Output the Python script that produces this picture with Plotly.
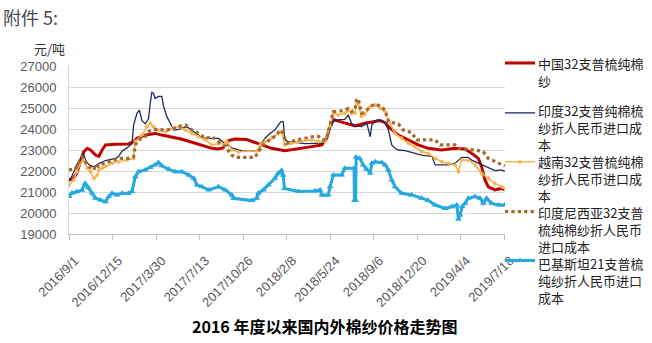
import plotly.graph_objects as go

# ---------------- data ----------------
tick_dates = ["2016-09-01", "2016-12-15", "2017-03-30", "2017-07-13", "2017-10-26", "2018-02-08",
              "2018-05-24", "2018-09-06", "2018-12-20", "2019-04-04", "2019-07-18"]
tick_labels = ["2016/9/1", "2016/12/15", "2017/3/30", "2017/7/13", "2017/10/26", "2018/2/8",
               "2018/5/24", "2018/9/6", "2018/12/20", "2019/4/4", "2019/7/18"]
y_ticks = [19000, 20000, 21000, 22000, 23000, 24000, 25000, 26000, 27000]

series_names = [
    "中国32支普梳纯棉<br>纱",
    "印度32支普纯棉梳<br>纱折人民币进口成<br>本",
    "越南32支普梳纯棉<br>纱折人民币进口成<br>本",
    "印度尼西亚32支普<br>梳纯棉纱折人民币<br>进口成本",
    "巴基斯坦21支普梳<br>纯纱折人民币进口<br>成本",
]

cn_dates = ["2016-09-01", "2016-09-10", "2016-09-20", "2016-09-28", "2016-10-06", "2016-10-15", "2016-10-23",
            "2016-11-04", "2016-11-12", "2016-11-20", "2016-11-28", "2016-12-22", "2017-01-23", "2017-02-04",
            "2017-02-12", "2017-03-04", "2017-03-28", "2017-04-13", "2017-05-07", "2017-06-01", "2017-07-03",
            "2017-07-27", "2017-08-12", "2017-08-27", "2017-09-08", "2017-09-21", "2017-10-06", "2017-11-04",
            "2017-11-24", "2018-01-03", "2018-02-04", "2018-03-09", "2018-04-10", "2018-05-04", "2018-05-16",
            "2018-05-24", "2018-06-01", "2018-06-09", "2018-06-29", "2018-07-15", "2018-07-24", "2018-08-16",
            "2018-09-05", "2018-09-22", "2018-10-04", "2018-10-12", "2018-11-05", "2018-11-29", "2018-12-23",
            "2019-01-16", "2019-02-17", "2019-03-22", "2019-04-15", "2019-05-01", "2019-05-17", "2019-05-25",
            "2019-06-02", "2019-06-10", "2019-06-26", "2019-07-12", "2019-07-20"]
cn_vals = [21600, 21600, 21900, 22400, 22900, 23080, 23000,
           22760, 22700, 23000, 23240, 23270, 23290, 23400,
           23560, 23710, 23790, 23710, 23600, 23510, 23320,
           23160, 23080, 23050, 23100, 23450, 23520, 23500,
           23350, 23080, 22970, 23050, 23160, 23240, 23560,
           24110, 24450, 24400, 24300, 24190, 24150, 24270,
           24350, 24400, 24300, 24110, 23710, 23480, 23240,
           23080, 23000, 23080, 23050, 22840, 22600, 22210,
           21570, 21250, 21100, 21170, 21100]

in_dates = ["2016-09-01", "2016-09-09", "2016-09-20", "2016-09-28", "2016-10-06", "2016-10-11", "2016-10-19",
            "2016-10-31", "2016-11-12", "2016-11-28", "2016-12-22", "2016-12-30", "2017-01-07", "2017-01-19",
            "2017-01-31", "2017-02-04", "2017-02-12", "2017-02-18", "2017-02-24", "2017-03-04", "2017-03-12",
            "2017-03-16", "2017-03-20", "2017-03-24", "2017-03-28", "2017-04-05", "2017-04-13", "2017-04-17",
            "2017-04-25", "2017-05-04", "2017-05-12", "2017-05-24", "2017-06-09", "2017-06-17", "2017-07-03",
            "2017-07-19", "2017-08-04", "2017-08-28", "2017-09-13", "2017-09-29", "2017-10-26", "2017-12-02",
            "2017-12-10", "2017-12-18", "2017-12-30", "2018-01-11", "2018-01-19", "2018-01-26", "2018-01-31",
            "2018-02-04", "2018-02-12", "2018-03-09", "2018-03-25", "2018-04-18", "2018-05-08", "2018-05-20",
            "2018-06-01", "2018-06-09", "2018-06-29", "2018-07-07", "2018-07-15", "2018-07-24", "2018-08-08",
            "2018-08-21", "2018-08-29", "2018-09-02", "2018-09-14", "2018-09-26", "2018-10-04", "2018-10-12",
            "2018-10-20", "2018-10-28", "2018-11-05", "2018-11-21", "2018-12-15", "2018-12-31", "2019-01-25",
            "2019-02-02", "2019-03-06", "2019-03-22", "2019-04-07", "2019-04-23", "2019-05-01", "2019-05-25",
            "2019-06-10", "2019-06-26", "2019-07-12", "2019-07-20"]
in_vals = [21500, 21800, 22300, 22600, 22850, 22500, 22300,
           22200, 22350, 22500, 22600, 22700, 22950, 23100,
           23300, 24200, 24750, 24900, 24400, 24250, 24500,
           25200, 25750, 25700, 25450, 25550, 25550, 25100,
           24600, 24250, 23950, 23980, 24100, 24050, 23800,
           23580, 23550, 23550, 23300, 23100, 22950, 22950,
           23320, 23560, 23790, 23950, 24190, 24350, 24350,
           23480, 23400, 23350, 23300, 23320, 23320, 23790,
           24350, 24430, 24460, 24670, 24270, 24150, 24110,
           24270, 23630, 24200, 24430, 24400, 24300, 23950,
           23240, 23080, 23000, 22970, 22840, 22760, 22700,
           22290, 22290, 22370, 22650, 22650, 22520, 22300,
           22180, 22020, 22050, 21980]

vn_dates = ["2016-09-01", "2016-09-12", "2016-09-20", "2016-09-28", "2016-10-06", "2016-10-15", "2016-10-23",
            "2016-10-31", "2016-11-08", "2016-11-12", "2016-11-20", "2016-11-28", "2016-12-14", "2016-12-30",
            "2017-01-19", "2017-02-04", "2017-02-08", "2017-02-24", "2017-03-08", "2017-03-16", "2017-03-24",
            "2017-04-05", "2017-04-22", "2017-05-08", "2017-05-24", "2017-06-09", "2017-06-25", "2017-07-11",
            "2017-07-27", "2017-08-12", "2017-08-28", "2017-09-13", "2017-09-17", "2017-09-29", "2017-10-15",
            "2017-11-28", "2017-12-06", "2017-12-18", "2018-01-03", "2018-01-19", "2018-01-27", "2018-02-04",
            "2018-02-20", "2018-03-09", "2018-04-10", "2018-04-26", "2018-05-12", "2018-05-24", "2018-06-01",
            "2018-06-13", "2018-06-29", "2018-07-07", "2018-07-15", "2018-07-23", "2018-07-27", "2018-07-31",
            "2018-08-08", "2018-08-16", "2018-08-29", "2018-09-10", "2018-09-22", "2018-10-04", "2018-10-12",
            "2018-10-28", "2018-11-13", "2018-11-29", "2018-12-15", "2018-12-31", "2019-01-16", "2019-02-02",
            "2019-02-18", "2019-03-06", "2019-03-22", "2019-03-30", "2019-04-07", "2019-04-23", "2019-05-09",
            "2019-05-25", "2019-06-10", "2019-06-26", "2019-07-12", "2019-07-20"]
vn_vals = [21330, 21570, 21970, 22370, 22520, 22130, 21970,
           21650, 21800, 22050, 22130, 22210, 22370, 22440,
           22520, 22600, 23400, 23710, 24110, 24270, 24110,
           23950, 23870, 24030, 24110, 23950, 23790, 23630,
           23480, 23240, 23300, 23300, 23400, 23000, 22920,
           22950, 23240, 23400, 23560, 23790, 23870, 23240,
           23320, 23400, 23480, 23400, 23400, 24110, 24750,
           24670, 24750, 24900, 24750, 24750, 25300, 25200,
           24600, 24700, 25060, 25140, 25000, 24830, 24430,
           23790, 23560, 23320, 23160, 22920, 22840, 22600,
           22440, 22370, 22290, 21970, 22520, 22520, 22290,
           21890, 21650, 21410, 21250, 21170]

id_dates = ["2016-09-01", "2016-09-16", "2016-09-24", "2016-10-02", "2016-10-10", "2016-10-19", "2016-10-31",
            "2016-11-04", "2016-11-12", "2016-11-24", "2016-12-06", "2016-12-22", "2017-01-03", "2017-01-23",
            "2017-02-04", "2017-02-08", "2017-02-16", "2017-03-04", "2017-03-12", "2017-03-20", "2017-04-05",
            "2017-04-22", "2017-05-08", "2017-05-20", "2017-06-09", "2017-06-25", "2017-07-11", "2017-07-27",
            "2017-08-12", "2017-08-28", "2017-09-13", "2017-09-29", "2017-10-07", "2017-11-24", "2017-12-02",
            "2017-12-18", "2018-01-03", "2018-01-15", "2018-01-23", "2018-01-31", "2018-02-08", "2018-03-04",
            "2018-03-25", "2018-04-10", "2018-04-26", "2018-05-08", "2018-05-16", "2018-05-24", "2018-06-01",
            "2018-06-13", "2018-06-29", "2018-07-07", "2018-07-15", "2018-07-23", "2018-07-27", "2018-07-31",
            "2018-08-04", "2018-08-08", "2018-08-16", "2018-08-29", "2018-09-10", "2018-09-22", "2018-10-04",
            "2018-10-12", "2018-11-05", "2018-11-17", "2018-12-07", "2018-12-19", "2019-02-02", "2019-02-14",
            "2019-03-22", "2019-03-30", "2019-05-09", "2019-05-29", "2019-06-10", "2019-06-26", "2019-07-12",
            "2019-07-20"]
id_vals = [22050, 22100, 22370, 22680, 22450, 22210, 22050,
           22300, 22210, 22370, 22440, 22520, 22600, 22600,
           22680, 23240, 23480, 23630, 23870, 23950, 23980,
           23950, 23980, 24110, 24190, 23950, 23790, 23560,
           23630, 23400, 23160, 22760, 22650, 22650, 22920,
           23320, 23560, 23710, 23950, 23800, 23320, 23480,
           23560, 23630, 23650, 23480, 23560, 24190, 24830,
           24830, 24900, 24980, 24830, 24900, 25380, 25460,
           25140, 24750, 24800, 25060, 25190, 25100, 24900,
           24350, 24240, 23950, 23830, 23480, 23480, 23240,
           23240, 23080, 23000, 22920, 22600, 22440, 22290,
           22240]

pk_dates = ["2016-09-01", "2016-09-08", "2016-09-20", "2016-10-02", "2016-10-10", "2016-10-18", "2016-10-27",
            "2016-11-04", "2016-11-16", "2016-11-28", "2016-12-06", "2016-12-14", "2016-12-26", "2017-01-07",
            "2017-01-23", "2017-01-31", "2017-02-08", "2017-02-16", "2017-03-04", "2017-03-16", "2017-03-28",
            "2017-04-05", "2017-04-13", "2017-04-30", "2017-05-16", "2017-06-01", "2017-06-17", "2017-06-29",
            "2017-07-07", "2017-07-19", "2017-08-04", "2017-08-28", "2017-09-13", "2017-09-29", "2017-10-03",
            "2017-11-16", "2017-11-28", "2017-12-02", "2017-12-14", "2017-12-26", "2018-01-11", "2018-01-19",
            "2018-01-27", "2018-01-31", "2018-02-03", "2018-03-09", "2018-04-18", "2018-04-30", "2018-05-04",
            "2018-05-20", "2018-05-24", "2018-06-01", "2018-06-21", "2018-06-29", "2018-07-21", "2018-07-22",
            "2018-07-25", "2018-07-26", "2018-08-04", "2018-08-12", "2018-08-20", "2018-08-29", "2018-09-02",
            "2018-09-10", "2018-09-26", "2018-10-04", "2018-10-12", "2018-10-20", "2018-10-28", "2018-11-13",
            "2018-12-07", "2018-12-31", "2019-01-16", "2019-02-02", "2019-02-26", "2019-03-14", "2019-03-26",
            "2019-03-30", "2019-04-03", "2019-04-08", "2019-04-15", "2019-04-23", "2019-05-09", "2019-05-21",
            "2019-05-29", "2019-06-06", "2019-06-18", "2019-07-05", "2019-07-20"]
pk_vals = [20780, 20950, 21010, 21080, 21410, 21200, 20940,
           20700, 20620, 20540, 20780, 20940, 20860, 20940,
           20940, 21020, 21730, 21970, 22050, 22170, 22290,
           22400, 22250, 22080, 21970, 21970, 21810, 21650,
           21330, 21250, 21100, 21250, 21100, 20860, 20700,
           20590, 20700, 20940, 21100, 21330, 21650, 21890,
           22020, 21800, 21170, 21020, 21050, 21100, 20860,
           20860, 21250, 21810, 21810, 22130, 22130, 20600,
           20600, 22650, 22600, 22290, 22100, 21890, 22370,
           22440, 22400, 22290, 22050, 21570, 21250, 20940,
           20860, 20700, 20600, 20380, 20220, 20300, 20380,
           19700, 19900, 20300, 20460, 20700, 20780, 20700,
           20460, 20700, 20460, 20380, 20380]

# ---------------- layout helpers ----------------
W, H = 652, 343
PL, PR, PT, PB = 69, 505, 66, 234.4


def px_x(p):
    return (p - PL) / (PR - PL)


def px_y(p):
    return (PB - p) / (PB - PT)


NUM_FONT = "Liberation Sans, Noto Sans CJK SC, sans-serif"
CJK_FONT = "Noto Sans CJK SC, sans-serif"

fig = go.Figure()

styles = [
    dict(line=dict(color="#C00000", width=3), mode="lines"),
    dict(line=dict(color="#1F2D5C", width=1.3), mode="lines"),
    dict(line=dict(color="#F7B24E", width=1.6), mode="lines+markers",
         marker=dict(symbol="diamond", size=3.5, color="#F7B24E")),
    dict(line=dict(color="#A5672A", width=3.2, dash="dot"), mode="lines"),
    dict(line=dict(color="#26A8E0", width=3), mode="lines+markers",
         marker=dict(symbol="triangle-up", size=6, color="#26A8E0")),
]
data = [(cn_dates, cn_vals), (in_dates, in_vals), (vn_dates, vn_vals), (id_dates, id_vals), (pk_dates, pk_vals)]
legend_ids = ["legend", "legend2", "legend3", "legend4", "legend5"]
sample_y = [64, 114, 163, 213, 262]            # vertical centre of each legend key
text_first_line = [64, 111, 162, 213, 264]     # vertical centre of first text line
LINE_H = 16.9

for i, ((xs, ys), st) in enumerate(zip(data, styles)):
    fig.add_trace(go.Scatter(x=xs, y=ys, name="", legend=legend_ids[i],
                             hoverinfo="skip", **st))

legend_common = dict(x=px_x(500), xanchor="left", yanchor="top", bgcolor="rgba(0,0,0,0)",
                     font=dict(family=CJK_FONT, size=13, color="#222222"), itemwidth=30)
layout_legends = {lid: dict(y=px_y(sy - 16), **legend_common) for lid, sy in zip(legend_ids, sample_y)}

fig.update_layout(
    width=W, height=H, autosize=False,
    margin=dict(l=PL, r=W - PR, t=PT, b=H - PB, pad=0),
    paper_bgcolor="white", plot_bgcolor="white",
    showlegend=True,
    xaxis=dict(type="date", range=["2016-09-01", "2019-07-20 10:00"],
               tickvals=tick_dates, ticktext=tick_labels, tickangle=-45,
               ticks="outside", ticklen=5, tickcolor="#BFBFBF",
               ticklabelstandoff=8, ticklabelshift=6,
               showline=True, linecolor="#BFBFBF", linewidth=1,
               showgrid=False, zeroline=False,
               tickfont=dict(family=NUM_FONT, size=13, color="#595959")),
    yaxis=dict(range=[19000, 27000], tickvals=y_ticks, ticktext=[str(v) for v in y_ticks],
               showgrid=True, gridcolor="#D9D9D9", gridwidth=1,
               showline=True, linecolor="#D9D9D9", zeroline=False,
               ticks="", ticklabelstandoff=9,
               tickfont=dict(family=NUM_FONT, size=13, color="#595959")),
    **layout_legends,
)

# legend texts (wrapped as in the reference)
for name, y0 in zip(series_names, text_first_line):
    n_lines = name.count("<br>") + 1
    fig.add_annotation(text=name, xref="paper", yref="paper", x=px_x(537),
                       y=px_y(y0 + (n_lines - 1) * LINE_H / 2),
                       xanchor="left", yanchor="middle", align="left", showarrow=False,
                       borderpad=0,
                       font=dict(family=CJK_FONT, size=13, color="#222222"))

fig.add_annotation(text="附件 5:", xref="paper", yref="paper", x=px_x(1), y=px_y(17),
                   xanchor="left", yanchor="middle", showarrow=False,
                   font=dict(family=CJK_FONT, size=18, color="#4A4A4A"))
fig.add_annotation(text="元/吨", xref="paper", yref="paper", x=px_x(49), y=px_y(48),
                   xanchor="center", yanchor="middle", showarrow=False,
                   font=dict(family=CJK_FONT, size=13, color="#333333"))
fig.add_annotation(text="<b>2016 年度以来国内外棉纱价格走势图</b>", xref="paper", yref="paper",
                   x=px_x(324), y=px_y(327), xanchor="center", yanchor="middle", showarrow=False,
                   font=dict(family=CJK_FONT, size=16, color="#000000"))

fig.write_html("out.html")
